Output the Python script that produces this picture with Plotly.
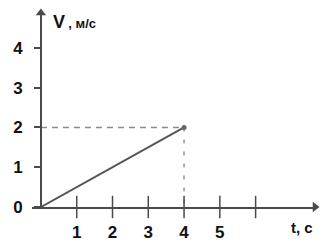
import plotly.graph_objects as go

# data
t_line = [0, 4]
v_line = [0, 2]
point_t = [4]
point_v = [2]
x_tickvals = [1, 2, 3, 4, 5, 6]
x_ticktext = ["1", "2", "3", "4", "5", ""]
y_tickvals = [0, 1, 2, 3, 4]
y_ticktext = ["0", "1", "2", "3", "4"]
x_label = "t, c"
y_label = "V , м/с"

x_range = [-0.25, 7.66]
y_range = [0, 4.88]

axis_col = "#4a4a4a"
font = dict(family="Liberation Sans, Arial, sans-serif", size=17, color="#111", weight="bold")

fig = go.Figure()

# guide lines
fig.add_trace(go.Scatter(x=[0, point_t[0]], y=[point_v[0], point_v[0]], mode="lines",
                         line=dict(color="#8a8a8a", width=1.5, dash="6px,5px"),
                         hoverinfo="skip", showlegend=False))
fig.add_trace(go.Scatter(x=[point_t[0], point_t[0]], y=[point_v[0], 0], mode="lines",
                         line=dict(color="#b0b0b0", width=2, dash="4px,8px"),
                         hoverinfo="skip", showlegend=False))
# main line
fig.add_trace(go.Scatter(x=t_line, y=v_line, mode="lines",
                         line=dict(color="#555", width=2), showlegend=False))
fig.add_trace(go.Scatter(x=point_t, y=point_v, mode="markers",
                         marker=dict(color="#666", size=5), showlegend=False))
# crossing tick marks on x axis
fig.add_trace(go.Scatter(x=x_tickvals, y=[0] * len(x_tickvals), mode="markers",
                         marker=dict(symbol="line-ns", size=16,
                                     line=dict(color=axis_col, width=1.5)),
                         cliponaxis=False, hoverinfo="skip", showlegend=False))
# axis arrowheads
fig.add_trace(go.Scatter(x=[x_range[1]], y=[0], mode="markers",
                         marker=dict(symbol="triangle-right", size=9, color=axis_col),
                         cliponaxis=False, hoverinfo="skip", showlegend=False))
fig.add_trace(go.Scatter(x=[0], y=[y_range[1]], mode="markers",
                         marker=dict(symbol="triangle-up", size=9, color=axis_col),
                         cliponaxis=False, hoverinfo="skip", showlegend=False))

xpos = (0 - x_range[0]) / (x_range[1] - x_range[0])

# figure sized to the visible window area after the page's default 8px body margin
fig.update_layout(
    width=320, height=235,
    margin=dict(l=24, r=13, t=5, b=36, autoexpand=False),
    plot_bgcolor="white", paper_bgcolor="white",
    xaxis=dict(range=x_range, showgrid=False, zeroline=False, showline=True,
               linecolor=axis_col, linewidth=1.5, automargin=False,
               tickvals=x_tickvals, ticktext=x_ticktext, ticks="",
               ticklabelstandoff=9, tickfont=font, domain=[0, 1]),
    yaxis=dict(range=y_range, showgrid=False, zeroline=False, showline=True,
               linecolor=axis_col, linewidth=1.5, anchor="free", position=xpos,
               automargin=False,
               tickvals=y_tickvals, ticktext=y_ticktext, ticks="outside",
               ticklen=6, tickcolor=axis_col, tickwidth=1.5,
               ticklabelstandoff=8, tickfont=font),
    annotations=[
        dict(x=0, y=1, xref="x", yref="paper", xanchor="left", yanchor="middle",
             xshift=10, yshift=-9, showarrow=False,
             text="<b><span style='font-size:18px'>V</span> <span style='font-size:13px'>, м/с</span></b>",
             font=dict(family=font["family"], color="#111")),
        dict(x=1.0, y=-0.108, xref="paper", yref="paper", xanchor="right", yanchor="middle",
             showarrow=False, text="<b>" + x_label + "</b>",
             font=dict(family=font["family"], size=15, color="#111")),
    ],
)

fig.write_html("out.html")
